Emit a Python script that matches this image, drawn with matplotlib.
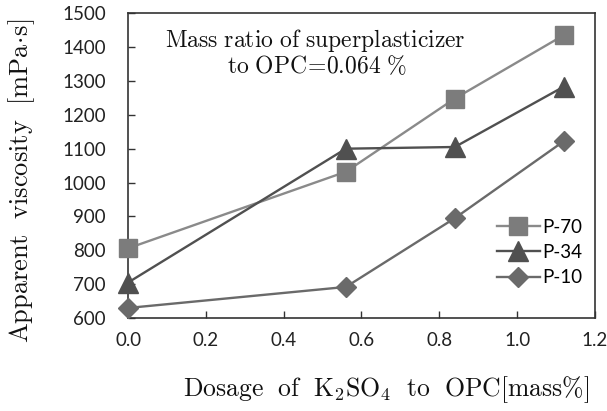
import matplotlib
matplotlib.use("Agg")
import matplotlib.pyplot as plt

dosage = [0.0, 0.56, 0.84, 1.12]
p70 = [806, 1032, 1248, 1435]
p34 = [705, 1100, 1105, 1283]
p10 = [630, 692, 895, 1122]
series_names = ["P-70", "P-34", "P-10"]
xticks = [0.0, 0.2, 0.4, 0.6, 0.8, 1.0, 1.2]
yticks = [600, 700, 800, 900, 1000, 1100, 1200, 1300, 1400, 1500]

plt.rcParams['mathtext.fontset'] = 'cm'
fig = plt.figure(figsize=(6.07, 4.11), dpi=100)
ax = fig.add_axes([0.211, 0.226, 0.769, 0.742])

ax.plot(dosage, p70, color='#8a8a8a', lw=1.7, marker='s', ms=13, mfc='#7c7c7c', mec='#7c7c7c', label=series_names[0], clip_on=False, zorder=3)
ax.plot(dosage, p34, color='#505050', lw=1.7, marker='^', ms=14, mfc='#505050', mec='#505050', label=series_names[1], clip_on=False, zorder=3)
ax.plot(dosage, p10, color='#6a6a6a', lw=1.7, marker='D', ms=10.5, mfc='#6a6a6a', mec='#6a6a6a', label=series_names[2], clip_on=False, zorder=3)

ax.set_xlim(0, 1.2)
ax.set_ylim(600, 1500)
ax.set_xticks(xticks)
ax.set_yticks(yticks)
ax.set_xticklabels([f"{v:.1f}" for v in xticks])
ax.tick_params(direction='in', length=5, width=1, color='#333333', labelsize=13.5)
ax.tick_params(axis='x', pad=10)
ax.tick_params(axis='y', pad=16)
for lab in ax.get_xticklabels() + ax.get_yticklabels():
    lab.set_family('Lato')
    lab.set_color('#222222')
for s in ax.spines.values():
    s.set_color('#333333')
    s.set_linewidth(1.2)

ax.set_xlabel(r"$\mathrm{Dosage\ \ of\ \ K_2SO_4\ \ to\ \ OPC[mass\%]}$", fontsize=18.5, color='#111111', va='center')
ax.xaxis.set_label_coords(0.553, -0.236)
ax.set_ylabel(r"$\mathrm{Apparent\ \ viscosity\ \ [mPa\!\cdot\! s]}$", fontsize=19, color='#111111', va='center')
ax.yaxis.set_label_coords(-0.229, 0.449)

ax.text(0.402, 0.889, r"$\mathrm{Mass\ ratio\ of\ superplasticizer}$", transform=ax.transAxes,
        ha='center', va='baseline', fontsize=17, color='#111111')
ax.text(0.405, 0.803, r"$\mathrm{to\ OPC\!=\!0.064\ \%}$", transform=ax.transAxes,
        ha='center', va='baseline', fontsize=17, color='#111111')

leg = ax.legend(loc='center right', bbox_to_anchor=(0.99, 0.215), frameon=False,
                handlelength=2.3, handletextpad=0.15, borderaxespad=0.0, labelspacing=0.45,
                prop={'family': 'Lato', 'size': 13.5})

fig.savefig("out.png", dpi=100)
